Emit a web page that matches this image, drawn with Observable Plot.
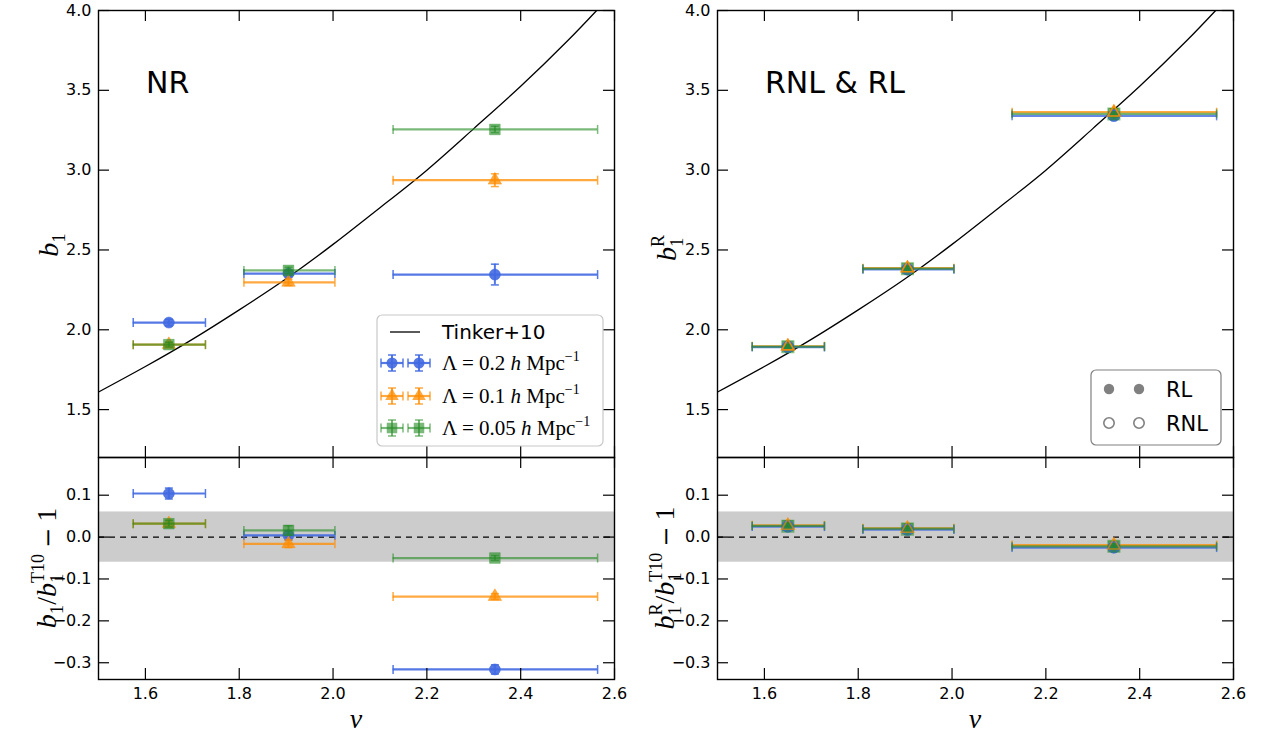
<!DOCTYPE html>
<html><head><meta charset="utf-8">
<script src="https://cdn.jsdelivr.net/npm/d3@7"></script>
<script src="https://cdn.jsdelivr.net/npm/@observablehq/plot@0.6"></script>
<style>
body{margin:0;background:#fff;}
#fig{position:relative;width:1261px;height:738px;overflow:hidden;font-family:"DejaVu Sans",sans-serif;background:#fff;}
#fig > svg{position:absolute;}
</style></head><body><div id="fig"></div>
<script>
// ---------- data ----------
const xTicks = [1.6, 1.8, 2.0, 2.2, 2.4, 2.6];
const yTicksTop = [1.5, 2.0, 2.5, 3.0, 3.5, 4.0];
const yTicksBot = [-0.3, -0.2, -0.1, 0.0, 0.1];
const nuCenter = [1.65, 1.905, 2.345];
const nuLo = [1.574, 1.81, 2.128];
const nuHi = [1.728, 2.004, 2.564];

const tinkerNu = [1.5, 1.6, 1.7, 1.8, 1.9, 2.0, 2.1, 2.2, 2.3, 2.4, 2.5, 2.562];
const tinkerB  = [1.61, 1.77, 1.94, 2.125, 2.32, 2.535, 2.765, 3.0, 3.26, 3.525, 3.81, 4.0];

// NR (left)
const nrBlueB = [2.045, 2.352, 2.346];   const nrBlueE = [0.02, 0.02, 0.065];
const nrOrangeB = [1.907, 2.297, 2.937]; const nrOrangeE = [0.015, 0.02, 0.04];
const nrGreenB = [1.907, 2.372, 3.255];  const nrGreenE = [0.015, 0.02, 0.02];
const nrBlueR = [0.104, 0.004, -0.316];  const nrBlueRE = [0.013, 0.011, 0.011];
const nrOrangeR = [0.032, -0.016, -0.142]; const nrOrangeRE = [0.008, 0.009, 0.007];
const nrGreenR = [0.032, 0.016, -0.050]; const nrGreenRE = [0.008, 0.011, 0.006];

// RL & RNL (right)
const rlBlueB = [1.892, 2.379, 3.340];   const rlOrangeB = [1.897, 2.386, 3.363]; const rlGreenB = [1.895, 2.383, 3.353];
const rnlBlueB = [1.893, 2.380, 3.342];  const rnlOrangeB = [1.896, 2.385, 3.361]; const rnlGreenB = [1.894, 2.382, 3.352];
const rErrB = [0.012, 0.015, 0.02];
const rlBlueR = [0.025, 0.018, -0.025];  const rlOrangeR = [0.028, 0.021, -0.019]; const rlGreenR = [0.027, 0.020, -0.022];
const rnlBlueR = [0.026, 0.018, -0.024]; const rnlOrangeR = [0.027, 0.020, -0.020]; const rnlGreenR = [0.026, 0.019, -0.022];
const rErrR = [0.006, 0.006, 0.006];

const bandHalf = 0.06;

// ---------- style ----------
const BLUE = "#4169e1", ORANGE = "#ff8c00", GREEN = "#228b22";
const capV = {draw(ctx, size){ const r = Math.sqrt(size/Math.PI); ctx.moveTo(0,-r); ctx.lineTo(0,r); }};
const capH = {draw(ctx, size){ const r = Math.sqrt(size/Math.PI); ctx.moveTo(-r,0); ctx.lineTo(r,0); }};

function errSeries(ys, es, color, symbol, opacity, filled=true, r=5.5, bars=true) {
  const data = ys.map((y,i)=>({x: nuCenter[i], y, e: es[i], lo: nuLo[i], hi: nuHi[i]}));
  const s = {stroke: color, strokeOpacity: opacity};
  const marker = Plot.dot(data, {x:"x", y:"y", symbol, r,
      fill: filled ? color : "none", fillOpacity: opacity,
      stroke: color, strokeOpacity: opacity, strokeWidth: filled ? 0.6 : 1.6});
  if (!bars) return [marker];
  return [
    Plot.ruleY(data, {y:"y", x1:"lo", x2:"hi", strokeWidth: 2.2, ...s}),
    Plot.ruleX(data, {x:"x", y1: d=>d.y-d.e, y2: d=>d.y+d.e, strokeWidth: 2, ...s}),
    Plot.dot(data, {x:"lo", y:"y", symbol: capV, r: 4.5, fill:"none", strokeWidth: 1.5, ...s}),
    Plot.dot(data, {x:"hi", y:"y", symbol: capV, r: 4.5, fill:"none", strokeWidth: 1.5, ...s}),
    Plot.dot(data, {x:"x", y: d=>d.y-d.e, symbol: capH, r: 4, fill:"none", strokeWidth: 1.5, ...s}),
    Plot.dot(data, {x:"x", y: d=>d.y+d.e, symbol: capH, r: 4, fill:"none", strokeWidth: 1.5, ...s}),
    marker
  ];
}

const W = 516, ML = 60, MR = 10;
const fig = document.getElementById("fig");

function panel({yDomain, yTicks, marks, H, mt, mb, showX, left, top}) {
  const p = Plot.plot({
    width: ML + W + MR, height: mt + H + mb,
    marginLeft: ML, marginRight: MR, marginTop: mt, marginBottom: mb,
    x: {domain: [1.5, 2.6], axis: null, label: null},
    y: {domain: yDomain, axis: null, label: null},
    style: {fontFamily: "DejaVu Sans", fontSize: "16px", overflow: "visible", background: "transparent", color: "black"},
    marks: [
      ...marks,
      Plot.tickX(xTicks, {x: d=>d, insetTop: H - 11, stroke: "black", strokeWidth: 1.2}),
      Plot.tickX(xTicks, {x: d=>d, insetBottom: H - 11, stroke: "black", strokeWidth: 1.2}),
      Plot.tickY(yTicks, {y: d=>d, insetRight: W - 11, stroke: "black", strokeWidth: 1.2}),
      Plot.tickY(yTicks, {y: d=>d, insetLeft: W - 11, stroke: "black", strokeWidth: 1.2}),
      Plot.axisY(yTicks, {tickSize: 0, tickPadding: 7, tickFormat: ".1f", fontSize: 16, label: null, fill: "black"}),
      showX ? Plot.axisX(xTicks, {tickSize: 0, tickPadding: 8, tickFormat: ".1f", fontSize: 16, label: null, fill: "black"}) : null,
      Plot.frame({stroke: "black", strokeWidth: 1.4})
    ]
  });
  p.style.left = left + "px";
  p.style.top = top + "px";
  fig.appendChild(p);
}

const tinker = tinkerNu.map((x,i)=>({x, y: tinkerB[i]}));
const tinkerLine = Plot.line(tinker, {x:"x", y:"y", curve: "natural", stroke: "black", strokeWidth: 1.3, clip: true});
const band = [
  Plot.rect([{x1: 1.5, x2: 2.6, y1: -bandHalf, y2: bandHalf}], {x1:"x1", x2:"x2", y1:"y1", y2:"y2", fill: "#cccccc"}),
  Plot.ruleY([0], {stroke: "black", strokeWidth: 1.3, strokeDasharray: "6,5"})
];

// Top-left NR
panel({yDomain: [1.2, 4.0], yTicks: yTicksTop, H: 447, mt: 10, mb: 0, showX: false, left: 98 - ML, top: 0,
  marks: [tinkerLine,
    ...errSeries(nrBlueB, nrBlueE, BLUE, "circle", 0.9),
    ...errSeries(nrOrangeB, nrOrangeE, ORANGE, "triangle", 0.75, true, 5),
    ...errSeries(nrGreenB, nrGreenE, GREEN, "square", 0.6, true, 6)]});
// Bottom-left
panel({yDomain: [-0.34, 0.19], yTicks: yTicksBot, H: 222, mt: 0, mb: 59, showX: true, left: 98 - ML, top: 457,
  marks: [...band,
    ...errSeries(nrBlueR, nrBlueRE, BLUE, "circle", 0.9),
    ...errSeries(nrOrangeR, nrOrangeRE, ORANGE, "triangle", 0.75, true, 5),
    ...errSeries(nrGreenR, nrGreenRE, GREEN, "square", 0.6, true, 6)]});
// Top-right RNL & RL
panel({yDomain: [1.2, 4.0], yTicks: yTicksTop, H: 447, mt: 10, mb: 0, showX: false, left: 717 - ML, top: 0,
  marks: [tinkerLine,
    ...errSeries(rlOrangeB, rErrB, ORANGE, "triangle", 0.75, true, 5),
    ...errSeries(rlBlueB, rErrB, BLUE, "circle", 0.8),
    ...errSeries(rlGreenB, rErrB, GREEN, "square", 0.6, true, 6),
    ...errSeries(rnlBlueB, rErrB, BLUE, "circle", 0.9, false, 5.5, false),
    ...errSeries(rnlGreenB, rErrB, GREEN, "square", 0.5, false, 6.5, false),
    ...errSeries(rnlOrangeB, rErrB, ORANGE, "triangle", 0.9, false, 4.5, false)]});
// Bottom-right
panel({yDomain: [-0.34, 0.19], yTicks: yTicksBot, H: 222, mt: 0, mb: 59, showX: true, left: 717 - ML, top: 457,
  marks: [...band,
    ...errSeries(rlOrangeR, rErrR, ORANGE, "triangle", 0.75, true, 5),
    ...errSeries(rlBlueR, rErrR, BLUE, "circle", 0.8),
    ...errSeries(rlGreenR, rErrR, GREEN, "square", 0.6, true, 6),
    ...errSeries(rnlBlueR, rErrR, BLUE, "circle", 0.9, false, 5.5, false),
    ...errSeries(rnlGreenR, rErrR, GREEN, "square", 0.5, false, 6.5, false),
    ...errSeries(rnlOrangeR, rErrR, ORANGE, "triangle", 0.6, false, 4.5, false)]});

// ---------- overlay: labels & legends ----------
const svg = d3.select(fig).append("svg").attr("width", 1261).attr("height", 738)
  .style("left", "0px").style("top", "0px").style("pointer-events", "none");
const SERIF = "'Liberation Serif', 'DejaVu Serif', serif";

// panel titles
svg.append("text").attr("x", 146).attr("y", 93).attr("font-family", "DejaVu Sans").attr("font-size", 30).text("NR");
svg.append("text").attr("x", 765).attr("y", 93).attr("font-family", "DejaVu Sans").attr("font-size", 30).text("RNL & RL");

// x labels
[356, 975].forEach(x => svg.append("text").attr("x", x).attr("y", 728).attr("text-anchor", "middle")
  .attr("font-family", SERIF).attr("font-style", "italic").attr("font-size", 28).text("ν"));

// math-like rotated y labels built from measured pieces
function mathLabel(cx, cy, pieces) {
  const outer = svg.append("g").attr("transform", `translate(${cx},${cy}) rotate(-90)`);
  const g = outer.append("g");
  let cursor = 0;
  let i = 0;
  while (i < pieces.length) {
    const group = [pieces[i]];
    while (i + 1 < pieces.length && pieces[i + 1].stack) { group.push(pieces[i + 1]); i++; }
    let wmax = 0;
    group.forEach(p => {
      const el = g.append("text").attr("x", cursor + (p.dx || 0)).attr("y", p.dy || 0)
        .attr("font-family", p.font || SERIF).attr("font-size", p.size || 28)
        .attr("font-style", p.italic ? "italic" : "normal").text(p.t);
      wmax = Math.max(wmax, el.node().getComputedTextLength() + (p.dx || 0) + (p.gap || 0));
    });
    cursor += wmax;
    i++;
  }
  g.attr("transform", `translate(${-cursor / 2},0)`);
}
const MINUS = {t: "−", font: "'DejaVu Serif', serif", size: 24, dx: 6, gap: 6};
mathLabel(58, 245, [{t:"b", italic:true}, {t:"1", size:19, dy:7}]);
mathLabel(676, 248, [{t:"b", italic:true}, {t:"R", size:18, dy:-12}, {t:"1", size:19, dy:7, stack:true}]);
mathLabel(56, 568, [{t:"b", italic:true}, {t:"1", size:19, dy:7}, {t:"/"}, {t:"b", italic:true},
  {t:"T10", size:18, dy:-12}, {t:"1", size:19, dy:7, stack:true}, MINUS, {t:"1"}]);
mathLabel(674, 568, [{t:"b", italic:true}, {t:"R", size:18, dy:-12}, {t:"1", size:19, dy:7, stack:true}, {t:"/"},
  {t:"b", italic:true}, {t:"T10", size:18, dy:-12}, {t:"1", size:19, dy:7, stack:true}, MINUS, {t:"1"}]);

// left legend
const lg = svg.append("g");
lg.append("rect").attr("x", 377).attr("y", 315).attr("width", 226).attr("height", 131).attr("rx", 5)
  .attr("fill", "white").attr("fill-opacity", 0.85).attr("stroke", "#c8c8c8").attr("stroke-width", 1.2);
lg.append("line").attr("x1", 390).attr("x2", 420).attr("y1", 332).attr("y2", 332).attr("stroke", "black").attr("stroke-width", 1.3);
lg.append("text").attr("x", 442).attr("y", 339).attr("font-family", "DejaVu Sans").attr("font-size", 20).text("Tinker+10");
const legendRows = [
  {y: 363, color: BLUE, op: 0.9, sym: d3.symbolCircle, size: 95, label: "0.2"},
  {y: 396, color: ORANGE, op: 0.75, sym: d3.symbolTriangle, size: 80, label: "0.1"},
  {y: 428, color: GREEN, op: 0.6, sym: d3.symbolSquare, size: 110, label: "0.05"}
];
legendRows.forEach(row => {
  [392, 419].forEach(cx => {
    const g = lg.append("g").attr("stroke", row.color).attr("stroke-opacity", row.op).attr("fill", "none");
    g.append("line").attr("x1", cx-11).attr("x2", cx+11).attr("y1", row.y).attr("y2", row.y).attr("stroke-width", 2.2);
    g.append("line").attr("x1", cx).attr("x2", cx).attr("y1", row.y-8).attr("y2", row.y+8).attr("stroke-width", 2);
    g.append("line").attr("x1", cx-11).attr("x2", cx-11).attr("y1", row.y-4.5).attr("y2", row.y+4.5).attr("stroke-width", 1.5);
    g.append("line").attr("x1", cx+11).attr("x2", cx+11).attr("y1", row.y-4.5).attr("y2", row.y+4.5).attr("stroke-width", 1.5);
    g.append("line").attr("x1", cx-4).attr("x2", cx+4).attr("y1", row.y-8).attr("y2", row.y-8).attr("stroke-width", 1.5);
    g.append("line").attr("x1", cx-4).attr("x2", cx+4).attr("y1", row.y+8).attr("y2", row.y+8).attr("stroke-width", 1.5);
    lg.append("path").attr("transform", `translate(${cx},${row.y})`).attr("d", d3.symbol(row.sym, row.size)())
      .attr("fill", row.color).attr("fill-opacity", row.op);
  });
  const t = lg.append("text").attr("x", 442).attr("y", row.y + 7).attr("font-family", SERIF).attr("font-size", 21);
  t.append("tspan").text("Λ = " + row.label + " ");
  t.append("tspan").attr("font-style", "italic").text("h");
  t.append("tspan").text(" Mpc");
  t.append("tspan").attr("font-size", 14).attr("dy", -9).text("−1");
});

// right legend
const rg = svg.append("g");
rg.append("rect").attr("x", 1091).attr("y", 370).attr("width", 130).attr("height", 75).attr("rx", 5)
  .attr("fill", "white").attr("fill-opacity", 0.85).attr("stroke", "#808080").attr("stroke-width", 1.2);
[1109, 1139].forEach(cx => {
  rg.append("circle").attr("cx", cx).attr("cy", 389).attr("r", 5.2).attr("fill", "#808080");
  rg.append("circle").attr("cx", cx).attr("cy", 423).attr("r", 5.2).attr("fill", "none").attr("stroke", "#808080").attr("stroke-width", 1.6);
});
rg.append("text").attr("x", 1166).attr("y", 397).attr("font-family", "DejaVu Sans").attr("font-size", 21).text("RL");
rg.append("text").attr("x", 1166).attr("y", 431).attr("font-family", "DejaVu Sans").attr("font-size", 21).text("RNL");
</script></body></html>
